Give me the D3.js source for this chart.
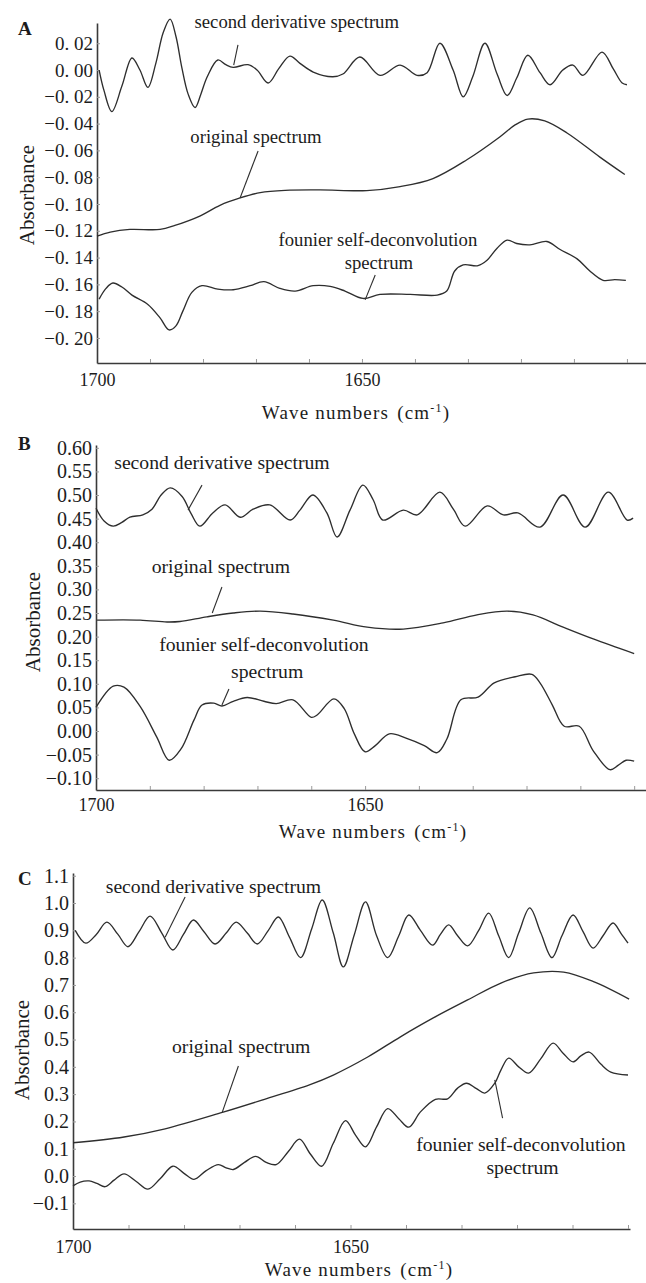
<!DOCTYPE html>
<html>
<head>
<meta charset="utf-8">
<script src="https://cdn.jsdelivr.net/npm/d3@7"></script>
<style>
  body { margin: 0; background: #fff; }
  svg { display: block; }
  text { font-family: "Liberation Serif", "Times New Roman", serif; fill: #1c1c1c; }
</style>
</head>
<body>
<svg id="chart"></svg>
<script>
var width = 646;
var height = 1283;

// x ticks every 10 cm-1, only two of them carry a label
var xTicks = [1700, 1690, 1680, 1670, 1660, 1650, 1640, 1630, 1620, 1610, 1600];
var xLabels = [1700, 1650];

var yTicksA = [0.02, 0.00, -0.02, -0.04, -0.06, -0.08, -0.10, -0.12, -0.14, -0.16, -0.18, -0.20];
var yTicksB = [0.60, 0.55, 0.50, 0.45, 0.40, 0.35, 0.30, 0.25, 0.20, 0.15, 0.10, 0.05, 0.00, -0.05, -0.10];
var yTicksC = [1.1, 1.0, 0.9, 0.8, 0.7, 0.6, 0.5, 0.4, 0.3, 0.2, 0.1, 0.0, -0.1];

// [wave number, absorbance]
var derivA = [[1699.6,0.000],[1698.7,-0.015],[1697.2,-0.031],[1695.3,-0.012],[1693.4,0.009],[1691.9,0.000],
  [1690.4,-0.013],[1688.9,0.005],[1687.5,0.028],[1686.2,0.038],[1685.1,0.025],[1684.0,0.002],[1682.8,-0.018],
  [1681.5,-0.028],[1680.4,-0.018],[1679.2,-0.005],[1677.2,0.0075],[1675.7,0.004],[1674.3,0.002],[1671.5,0.004],
  [1669.8,0.000],[1667.7,-0.0097],[1665.7,0.001],[1663.6,0.0104],[1661.7,0.005],[1659.2,-0.0015],[1655.5,-0.005],
  [1653.6,-0.003],[1650.4,0.0097],[1646.6,-0.004],[1642.8,0.0037],[1639.6,-0.004],[1637.7,-0.002],[1635.3,0.020],
  [1632.8,0.000],[1630.9,-0.020],[1629.1,-0.005],[1626.8,0.020],[1624.5,-0.003],[1622.6,-0.019],[1620.8,-0.006],
  [1618.7,0.011],[1616.4,-0.002],[1614.5,-0.011],[1612.1,0.000],[1610.2,0.0037],[1608.3,-0.004],[1604.7,0.0134],
  [1602.6,0.001],[1600.9,-0.0097],[1600.0,-0.011]];
var origA = [[1700.0,-0.124],[1697.5,-0.121],[1693.8,-0.119],[1688.1,-0.119],[1685.3,-0.116],[1680.6,-0.109],
  [1676.8,-0.101],[1673.0,-0.0955],[1669.2,-0.0915],[1664.5,-0.0898],[1657.9,-0.0895],[1649.1,-0.090],
  [1642.8,-0.087],[1636.6,-0.081],[1630.2,-0.067],[1624.0,-0.050],[1621.1,-0.041],[1618.7,-0.0366],
  [1615.5,-0.038],[1611.3,-0.047],[1605.1,-0.065],[1600.4,-0.078]];
var fsdA = [[1699.6,-0.171],[1698.3,-0.163],[1697.0,-0.159],[1695.3,-0.162],[1693.4,-0.168],[1690.4,-0.175],
  [1688.1,-0.185],[1686.4,-0.194],[1685.1,-0.191],[1683.8,-0.180],[1682.1,-0.166],[1680.2,-0.161],[1677.2,-0.1635],
  [1674.3,-0.164],[1671.1,-0.161],[1668.5,-0.158],[1665.5,-0.163],[1662.6,-0.165],[1659.2,-0.161],[1656.0,-0.1615],
  [1653.2,-0.165],[1649.8,-0.1705],[1646.6,-0.1675],[1640.9,-0.1675],[1635.8,-0.168],[1634.0,-0.165],
  [1632.5,-0.150],[1630.9,-0.1455],[1628.1,-0.146],[1626.4,-0.142],[1624.5,-0.133],[1622.6,-0.127],
  [1620.8,-0.1295],[1618.3,-0.1305],[1615.1,-0.128],[1612.6,-0.134],[1609.4,-0.141],[1607.0,-0.150],
  [1604.5,-0.157],[1602.3,-0.1565],[1600.2,-0.157]];

var derivB = [[1700.0,0.472],[1698.5,0.445],[1696.8,0.434],[1695.2,0.442],[1693.7,0.453],[1691.3,0.458],
  [1689.6,0.470],[1687.9,0.500],[1686.2,0.515],[1684.0,0.497],[1682.3,0.460],[1680.7,0.434],[1678.3,0.462],
  [1676.0,0.479],[1673.2,0.453],[1670.8,0.470],[1667.7,0.479],[1663.9,0.447],[1662.1,0.468],[1659.7,0.500],
  [1657.1,0.462],[1655.2,0.411],[1652.8,0.468],[1650.4,0.521],[1648.5,0.490],[1646.7,0.447],[1642.9,0.468],
  [1640.3,0.458],[1636.1,0.506],[1633.6,0.470],[1631.4,0.434],[1627.3,0.477],[1624.3,0.458],[1621.6,0.462],
  [1617.5,0.432],[1613.2,0.500],[1609.1,0.432],[1604.8,0.506],[1601.3,0.447],[1600.2,0.451]];
var origB = [[1699.8,0.235],[1691.8,0.235],[1686.8,0.231],[1684.4,0.232],[1679.4,0.242],[1674.5,0.250],
  [1669.5,0.254],[1663.4,0.248],[1655.9,0.235],[1649.6,0.220],[1642.9,0.216],[1635.5,0.229],[1629.2,0.246],
  [1623.6,0.254],[1618.8,0.246],[1613.2,0.220],[1607.6,0.195],[1600.0,0.164]];
var fsdB = [[1700.0,0.050],[1696.8,0.095],[1694.8,0.093],[1691.8,0.052],[1688.7,-0.013],[1686.4,-0.062],
  [1684.2,-0.038],[1681.8,0.023],[1680.3,0.055],[1678.1,0.059],[1676.6,0.053],[1674.5,0.063],[1671.9,0.071],
  [1668.8,0.063],[1666.5,0.058],[1663.4,0.066],[1660.0,0.029],[1658.9,0.034],[1655.8,0.068],[1653.9,0.048],
  [1652.0,-0.006],[1650.0,-0.044],[1648.1,-0.031],[1645.5,-0.006],[1642.4,-0.015],[1639.0,-0.031],
  [1636.6,-0.046],[1634.8,-0.017],[1632.2,0.066],[1629.0,0.072],[1626.0,0.102],[1622.1,0.115],[1619.0,0.120],
  [1617.5,0.102],[1615.2,0.055],[1613.0,0.010],[1610.2,0.010],[1607.6,-0.042],[1604.5,-0.082],[1603.0,-0.073],
  [1601.5,-0.062],[1600.0,-0.064]];

var derivC = [[1699.6,0.90],[1697.7,0.853],[1695.8,0.885],[1693.9,0.93],[1691.9,0.885],[1690.1,0.84],
  [1688.1,0.895],[1686.1,0.952],[1684.0,0.89],[1682.0,0.828],[1680.1,0.885],[1678.3,0.938],[1676.4,0.895],
  [1674.4,0.85],[1672.4,0.89],[1670.6,0.93],[1668.6,0.89],[1666.8,0.85],[1664.8,0.9],[1663.0,0.949],
  [1661.0,0.875],[1659.0,0.80],[1657.0,0.905],[1655.1,1.011],[1653.1,0.89],[1651.3,0.766],[1649.3,0.885],
  [1647.3,1.004],[1645.3,0.88],[1643.3,0.80],[1641.3,0.88],[1639.5,0.956],[1637.4,0.9],[1635.2,0.846],
  [1633.8,0.885],[1632.3,0.92],[1630.7,0.88],[1628.9,0.843],[1626.9,0.9],[1625.1,0.963],[1623.3,0.88],
  [1621.5,0.80],[1619.7,0.89],[1617.7,0.982],[1615.7,0.89],[1613.7,0.80],[1611.9,0.88],[1609.9,0.956],
  [1608.1,0.895],[1606.3,0.835],[1604.5,0.88],[1602.7,0.927],[1601.3,0.89],[1600.0,0.853]];
var origC = [[1700.0,0.122],[1690.8,0.143],[1683.4,0.173],[1673.1,0.233],[1665.5,0.281],[1657.4,0.334],
  [1653.1,0.37],[1646.9,0.436],[1641.0,0.51],[1635.0,0.58],[1628.9,0.645],[1622.9,0.707],[1617.0,0.744],
  [1611.6,0.747],[1606.1,0.711],[1599.8,0.648]];
var fsdC = [[1700.0,-0.036],[1698.7,-0.022],[1697.1,-0.018],[1695.7,-0.027],[1694.2,-0.039],[1692.6,-0.015],
  [1690.8,0.008],[1688.6,-0.02],[1686.5,-0.048],[1684.3,-0.01],[1682.0,0.036],[1680.0,0.01],[1678.2,-0.012],
  [1676.0,0.02],[1673.8,0.042],[1672.4,0.03],[1671.1,0.024],[1669.1,0.05],[1667.1,0.072],[1665.2,0.05],
  [1663.4,0.042],[1661.2,0.09],[1659.2,0.135],[1657.2,0.08],[1655.2,0.036],[1653.1,0.12],[1650.9,0.203],
  [1649.1,0.15],[1647.3,0.107],[1645.3,0.18],[1643.3,0.247],[1641.3,0.21],[1639.5,0.179],[1637.4,0.235],
  [1634.7,0.281],[1632.5,0.283],[1630.7,0.322],[1629.1,0.34],[1627.3,0.32],[1625.8,0.304],[1624.0,0.34],
  [1622.9,0.388],[1621.5,0.432],[1619.7,0.40],[1617.9,0.377],[1615.7,0.43],[1613.5,0.487],[1611.7,0.45],
  [1609.9,0.418],[1608.5,0.44],[1607.0,0.454],[1604.9,0.41],[1603.1,0.381],[1600.0,0.37]];

// annotation labels and their pointer lines, in data coordinates
var notesA = [
  {label: 'second derivative spectrum', wn: 1662.3, v: 0.031},
  {label: 'original spectrum', wn: 1670.0, v: -0.0545},
  {label: 'founier self-deconvolution', wn: 1647.0, v: -0.131},
  {label: 'spectrum', wn: 1646.8, v: -0.1485}
];
var leadersA = [[[1673.4,0.0187],[1674.2,0.0037]], [[1669.6,-0.0604],[1673.0,-0.0955]], [[1647.5,-0.153],[1649.4,-0.1716]]];
var notesB = [
  {label: 'second derivative spectrum', wn: 1676.6, v: 0.555},
  {label: 'original spectrum', wn: 1676.8, v: 0.335},
  {label: 'founier self-deconvolution', wn: 1668.8, v: 0.169},
  {label: 'spectrum', wn: 1668.2, v: 0.112}
];
var leadersB = [[[1680.3,0.521],[1682.9,0.468]], [[1676.6,0.305],[1678.4,0.25]], [[1675.3,0.089],[1676.6,0.055]]];
var notesC = [
  {label: 'second derivative spectrum', wn: 1674.7, v: 1.037},
  {label: 'original spectrum', wn: 1669.7, v: 0.45},
  {label: 'founier self-deconvolution', wn: 1619.3, v: 0.092},
  {label: 'spectrum', wn: 1619.0, v: 0.007}
];
var leadersC = [[[1679.8,1.022],[1683.4,0.875]], [[1670.2,0.403],[1673.1,0.234]], [[1622.6,0.212],[1624.0,0.352]]];

function fmtA(d){ // panel A prints "0. 02" style labels
  var s = Math.abs(d).toFixed(2).replace('.', '. ');
  return (d < -1e-9 ? '\u2212' : '') + s;
}
function fmtFixed(n){
  return function(d){ return (d < -1e-9 ? '\u2212' : '') + Math.abs(d).toFixed(n); };
}

var panels = [
  {letter: 'A', letterY: 35, xDomain: [1700, 1596.4], xRange: [97, 646], yDomain: [-0.2187, 0.0351], yRange: [363, 23],
   xPad: 10, yTicks: yTicksA, yFormat: fmtA, tickFont: 19, absX: 27, absY: 195, titleX: 356, titleY: 419,
   noteFont: 18.7, series: [derivA, origA, fsdA], notes: notesA, leaders: leadersA},
  {letter: 'B', letterY: 450, xDomain: [1700, 1597.8], xRange: [96, 646], yDomain: [-0.125, 0.606], yRange: [790, 445],
   xPad: 8, yTicks: yTicksB, yFormat: fmtFixed(2), tickFont: 20, absX: 33, absY: 622, titleX: 373, titleY: 838,
   noteFont: 19.7, series: [derivB, origB, fsdB], notes: notesB, leaders: leadersB},
  {letter: 'C', letterY: 885, xDomain: [1700, 1599.64], xRange: [73, 630], yDomain: [-0.194, 1.11], yRange: [1229, 873],
   xPad: 11, yTicks: yTicksC, yFormat: fmtFixed(1), tickFont: 20, absX: 22, absY: 1050, titleX: 359, titleY: 1276,
   noteFont: 19.7, series: [derivC, origC, fsdC], notes: notesC, leaders: leadersC}
];

var svg = d3.select('#chart')
  .attr('width', width)
  .attr('height', height);

function drawPanel(p){
  var g = svg.append('g').classed('panel', true);

  var xScale = d3.scaleLinear().domain(p.xDomain).range(p.xRange);
  var yScale = d3.scaleLinear().domain(p.yDomain).range(p.yRange);

  var xAxis = g.append('g')
    .attr('transform', `translate(0, ${p.yRange[0]})`)
    .call(d3.axisBottom(xScale)
      .tickValues(xTicks)
      .tickSize(-4)
      .tickSizeOuter(0)
      .tickPadding(p.xPad)
      .tickFormat(d => xLabels.indexOf(d) >= 0 ? d : ''));

  var yAxis = g.append('g')
    .attr('transform', `translate(${p.xRange[0]}, 0)`)
    .call(d3.axisLeft(yScale)
      .tickValues(p.yTicks)
      .tickSize(-3)
      .tickSizeOuter(0)
      .tickPadding(4)
      .tickFormat(p.yFormat));

  g.selectAll('.domain').attr('stroke', '#3a3a3a').attr('stroke-width', 1.6);
  g.selectAll('.tick line').attr('stroke', '#9a9a9a').attr('stroke-width', 1);
  xAxis.selectAll('.tick text')
    .style('font-family', '"Liberation Serif", serif')
    .style('font-size', '18px')
    .attr('fill', '#1c1c1c');
  yAxis.selectAll('.tick text')
    .style('font-family', '"Liberation Serif", serif')
    .style('font-size', p.tickFont + 'px')
    .attr('fill', '#1c1c1c');

  var line = d3.line()
    .x(d => xScale(d[0]))
    .y(d => yScale(d[1]))
    .curve(d3.curveCatmullRom.alpha(0.5));

  g.selectAll('path.spec')
    .data(p.series)
    .enter()
    .append('path')
      .classed('spec', true)
      .attr('fill', 'none')
      .attr('stroke', '#2e2e2e')
      .attr('stroke-width', 1.35)
      .attr('stroke-linejoin', 'round')
      .attr('d', line);

  // pointer lines from labels to curves
  g.selectAll('line.leader')
    .data(p.leaders)
    .enter()
    .append('line')
      .classed('leader', true)
      .attr('x1', d => xScale(d[0][0]))
      .attr('y1', d => yScale(d[0][1]))
      .attr('x2', d => xScale(d[1][0]))
      .attr('y2', d => yScale(d[1][1]))
      .attr('stroke', '#2e2e2e')
      .attr('stroke-width', 1.1);

  g.selectAll('text.note')
    .data(p.notes)
    .enter()
    .append('text')
      .classed('note', true)
      .attr('x', d => xScale(d.wn))
      .attr('y', d => yScale(d.v))
      .style('text-anchor', 'middle')
      .style('font-size', p.noteFont + 'px')
      .text(d => d.label);

  // panel letter
  g.append('text')
    .attr('x', 18)
    .attr('y', p.letterY)
    .style('font-size', '19px')
    .style('font-weight', 'bold')
    .text(p.letter);

  // Y axis label
  g.append('text')
    .attr('transform', `translate(${p.absX}, ${p.absY}) rotate(-90)`)
    .attr('dy', '0.35em')
    .style('text-anchor', 'middle')
    .style('font-size', '21px')
    .text('Absorbance');

  // X axis label, full-width style brackets leave a wider gap
  var title = g.append('text')
    .attr('x', p.titleX)
    .attr('y', p.titleY)
    .style('text-anchor', 'middle')
    .style('font-size', '19px')
    .style('letter-spacing', '1.2px');
  title.append('tspan').text('Wave numbers');
  title.append('tspan').attr('dx', 8).text('(cm');
  title.append('tspan').attr('dy', -7).style('font-size', '12px').text('-1');
  title.append('tspan').attr('dy', 7).text(')');
}

panels.forEach(drawPanel);
</script>
</body>
</html>
